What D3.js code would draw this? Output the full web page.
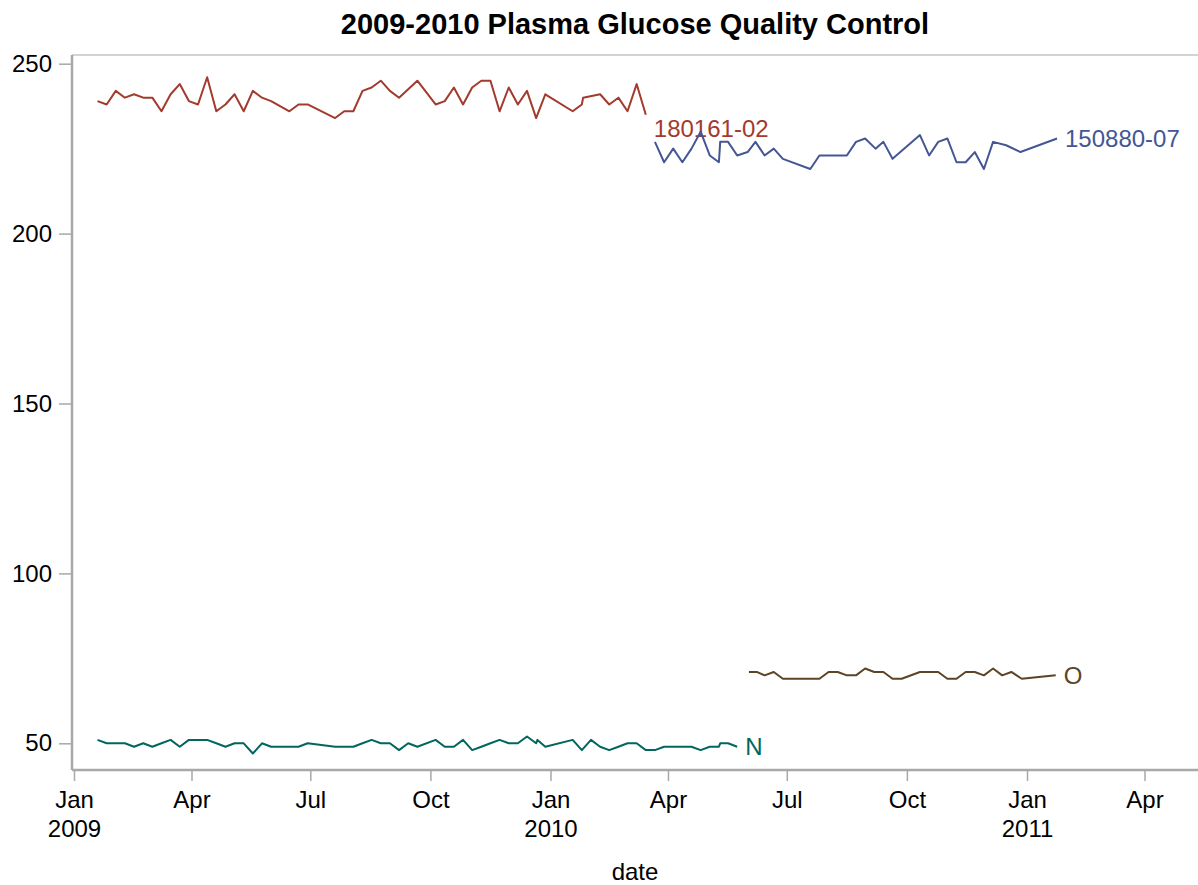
<!DOCTYPE html>
<html>
<head>
<meta charset="utf-8">
<script src="https://cdn.jsdelivr.net/npm/d3@7"></script>
<style>
  body { margin: 0; background: #fff; }
  svg { display: block; font-family: Arial, "Liberation Sans", sans-serif; }
</style>
</head>
<body>
<svg id="chart" width="1198" height="885"></svg>
<script>
// weekly QC runs
const lotA_dates = ["2009-01-19","2009-01-26","2009-02-02","2009-02-09","2009-02-16","2009-02-23","2009-03-02","2009-03-09","2009-03-16","2009-03-23",
  "2009-03-30","2009-04-06","2009-04-13","2009-04-20","2009-04-27","2009-05-04","2009-05-11","2009-05-18","2009-05-25","2009-06-01",
  "2009-06-15","2009-06-22","2009-06-29","2009-07-20","2009-07-27","2009-08-03","2009-08-10","2009-08-17","2009-08-24","2009-08-31",
  "2009-09-07","2009-09-21","2009-10-05","2009-10-12","2009-10-19","2009-10-26","2009-11-02","2009-11-09","2009-11-16","2009-11-23",
  "2009-11-30","2009-12-07","2009-12-14","2009-12-21","2009-12-28","2010-01-18","2010-01-25","2010-01-26","2010-02-08","2010-02-15",
  "2010-02-22","2010-03-01","2010-03-08","2010-03-15"];
const lotA_values = [239,238,242,240,241,240,240,236,241,244,
  239,238,246,236,238,241,236,242,240,239,
  236,238,238,234,236,236,242,243,245,242,
  240,245,238,239,243,238,243,245,245,236,
  243,238,242,234,241,236,238,240,241,238,
  240,236,244,235];

const lotB_dates = ["2010-03-22","2010-03-29","2010-04-05","2010-04-12","2010-04-19","2010-04-26","2010-05-03","2010-05-10","2010-05-11","2010-05-17",
  "2010-05-24","2010-06-01","2010-06-07","2010-06-14","2010-06-21","2010-06-28","2010-07-19","2010-07-26","2010-08-09","2010-08-16",
  "2010-08-23","2010-08-30","2010-09-07","2010-09-13","2010-09-20","2010-10-11","2010-10-18","2010-10-25","2010-11-01","2010-11-08",
  "2010-11-15","2010-11-22","2010-11-29","2010-12-06","2010-12-16","2010-12-27","2011-01-24"];
const lotB_values = [227,221,225,221,225,230,223,221,227,227,
  223,224,227,223,225,222,219,223,223,223,
  227,228,225,227,222,229,223,227,228,221,
  221,224,219,227,226,224,228];

const normal_dates = ["2009-01-19","2009-01-26","2009-02-02","2009-02-09","2009-02-16","2009-02-23","2009-03-02","2009-03-09","2009-03-16","2009-03-23",
  "2009-03-30","2009-04-06","2009-04-13","2009-04-20","2009-04-27","2009-05-04","2009-05-11","2009-05-18","2009-05-25","2009-06-01",
  "2009-06-15","2009-06-22","2009-06-29","2009-07-20","2009-07-27","2009-08-03","2009-08-10","2009-08-17","2009-08-24","2009-08-31",
  "2009-09-07","2009-09-14","2009-09-21","2009-10-05","2009-10-12","2009-10-19","2009-10-26","2009-11-02","2009-11-09","2009-11-16",
  "2009-11-23","2009-11-30","2009-12-07","2009-12-14","2009-12-21","2009-12-22","2009-12-28","2010-01-18","2010-01-25","2010-02-01",
  "2010-02-08","2010-02-15","2010-02-22","2010-03-01","2010-03-08","2010-03-15","2010-03-22","2010-03-29","2010-04-19","2010-04-26",
  "2010-05-03","2010-05-10","2010-05-11","2010-05-17","2010-05-24"];
const normal_values = [51,50,50,50,49,50,49,50,51,49,
  51,51,51,50,49,50,50,47,50,49,
  49,49,50,49,49,49,50,51,50,50,
  48,50,49,51,49,49,51,48,49,50,
  51,50,50,52,50,51,49,51,48,51,
  49,48,49,50,50,48,48,49,49,48,
  49,49,50,50,49];

const other_dates = ["2010-06-02","2010-06-08","2010-06-14","2010-06-21","2010-06-28","2010-07-26","2010-08-02","2010-08-09","2010-08-16","2010-08-23",
  "2010-08-30","2010-09-06","2010-09-13","2010-09-20","2010-09-27","2010-10-11","2010-10-25","2010-11-01","2010-11-08","2010-11-15",
  "2010-11-22","2010-11-29","2010-12-06","2010-12-13","2010-12-20","2010-12-28","2011-01-23"];
const other_values = [71,71,70,71,69,69,71,71,70,70,
  72,71,71,69,69,71,71,69,69,71,
  71,70,72,70,71,69,70];

const seriesNames = ["180161-02","150880-07","N","O"];
const seriesColors = ["#A23A2E","#445694","#01665E","#5E4426"];
const yTicks = [50,100,150,200,250];
const monthNames = ["Jan","Feb","Mar","Apr","May","Jun","Jul","Aug","Sep","Oct","Nov","Dec"];

const parse = d3.timeParse("%Y-%m-%d");
function zipSeries(dates, values) {
    return dates.map(function (d, i) { return {date: parse(d), value: values[i]}; });
}
const series = [
    {name: seriesNames[0], color: seriesColors[0], points: zipSeries(lotA_dates, lotA_values), dy: 14},
    {name: seriesNames[1], color: seriesColors[1], points: zipSeries(lotB_dates, lotB_values), dy: 0},
    {name: seriesNames[2], color: seriesColors[2], points: zipSeries(normal_dates, normal_values), dy: 0},
    {name: seriesNames[3], color: seriesColors[3], points: zipSeries(other_dates, other_values), dy: 0}
];

const svg = d3.select("#chart");
const plot = {left: 72, top: 55, right: 1202, bottom: 770};

const x = d3.scaleTime()
    .domain([parse("2009-01-01"), parse("2011-01-01")])
    .range([74, 1027]);
const y = d3.scaleLinear()
    .domain([50, 250])
    .range([743.3, 63.7]);

// frame
svg.append("line")
    .attr("x1", plot.left).attr("x2", plot.right)
    .attr("y1", plot.top).attr("y2", plot.top)
    .attr("stroke", "#c4c4c4").attr("stroke-width", 1.5);
svg.append("line")
    .attr("x1", plot.left).attr("x2", plot.left)
    .attr("y1", plot.top).attr("y2", plot.bottom)
    .attr("stroke", "#a8a8a8").attr("stroke-width", 2.5);
svg.append("line")
    .attr("x1", plot.left).attr("x2", plot.right)
    .attr("y1", plot.bottom).attr("y2", plot.bottom)
    .attr("stroke", "#a8a8a8").attr("stroke-width", 2.5);

// y axis
const yAxis = svg.append("g")
    .attr("transform", "translate(" + (plot.left - 1) + ",0)")
    .call(d3.axisLeft(y).tickValues(yTicks).tickSize(12).tickPadding(7));
yAxis.select(".domain").remove();
yAxis.selectAll(".tick line").attr("stroke", "#a8a8a8").attr("stroke-width", 1.5);
yAxis.selectAll(".tick text")
    .attr("fill", "#000")
    .style("font-size", "24px")
    .style("font-family", "Arial, 'Liberation Sans', sans-serif");

// x axis
const xTickDates = d3.timeMonth.every(3).range(parse("2009-01-01"), parse("2011-04-02"));
const xAxis = svg.append("g")
    .attr("transform", "translate(0," + (plot.bottom + 1) + ")")
    .call(d3.axisBottom(x).tickValues(xTickDates).tickSize(10).tickFormat(""));
xAxis.select(".domain").remove();
xAxis.selectAll(".tick line").attr("stroke", "#a8a8a8").attr("stroke-width", 1.5);
const xLabels = xAxis.selectAll(".tick").append("text")
    .attr("fill", "#000")
    .attr("text-anchor", "middle")
    .style("font-size", "24px")
    .attr("y", 37);
xLabels.append("tspan")
    .attr("x", 0)
    .text(function (d) { return monthNames[d.getMonth()]; });
xLabels.filter(function (d) { return d.getMonth() === 0; })
    .append("tspan")
    .attr("x", 0)
    .attr("dy", 29)
    .text(function (d) { return d.getFullYear(); });

svg.append("text")
    .attr("x", (plot.left + 1198) / 2)
    .attr("y", 880)
    .attr("text-anchor", "middle")
    .style("font-size", "24px")
    .text("date");

svg.append("text")
    .attr("x", (plot.left + 1198) / 2)
    .attr("y", 34)
    .attr("text-anchor", "middle")
    .style("font-size", "29px")
    .style("font-weight", "bold")
    .text("2009-2010 Plasma Glucose Quality Control");

// series lines
const line = d3.line()
    .x(function (d) { return x(d.date); })
    .y(function (d) { return y(d.value); });

const groups = svg.selectAll(".series")
    .data(series)
    .enter().append("g")
    .attr("class", "series");

groups.append("path")
    .attr("d", function (d) { return line(d.points); })
    .attr("fill", "none")
    .attr("stroke", function (d) { return d.color; })
    .attr("stroke-width", 2)
    .attr("stroke-linejoin", "round");

// curve labels at the end of each line
groups.append("text")
    .attr("x", function (d) { return x(d.points[d.points.length - 1].date) + 8; })
    .attr("y", function (d) { return y(d.points[d.points.length - 1].value) + d.dy; })
    .attr("dy", "0.36em")
    .attr("fill", function (d) { return d.color; })
    .style("font-size", "24px")
    .text(function (d) { return d.name; });
</script>
</body>
</html>
